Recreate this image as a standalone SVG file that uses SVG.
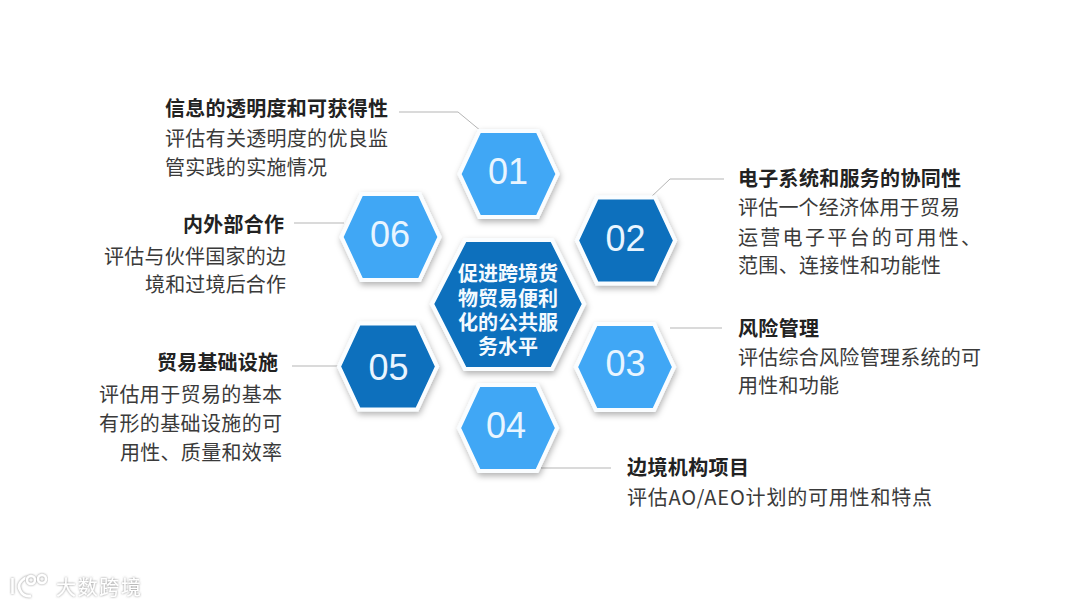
<svg xmlns="http://www.w3.org/2000/svg" width="1080" height="608" viewBox="0 0 1080 608">
<style>
text{font-family:"Noto Sans CJK SC","Liberation Sans",sans-serif}
.t{font-size:20px;font-weight:700;fill:#222}
.d{font-size:20px;fill:#3a3a3a}
.r{text-anchor:end}
.n{font-family:"Liberation Sans",sans-serif;font-size:36px;fill:#e9f5ff;text-anchor:middle}
.hex{stroke:#fafdff;stroke-width:4;stroke-linejoin:miter;filter:url(#sh)}
.l{fill:#3fa7f5}.k{fill:#0a6fbd}
.c{fill:none;stroke:#b5b5b5;stroke-width:1}
.ct{font-size:20px;font-weight:700;fill:#f4faff;text-anchor:middle}
.wm{font-size:20px;fill:#fff;filter:url(#wm)}
.wl{fill:none;stroke:#fff;stroke-width:2.500;filter:url(#wm)}
</style>
<defs>
<filter id="sh" x="-20%" y="-20%" width="140%" height="145%"><feDropShadow dx="1" dy="3" stdDeviation="3" flood-color="#000" flood-opacity=".3"/></filter>
<filter id="wm" x="-20%" y="-30%" width="140%" height="160%"><feDropShadow dx="0" dy="0" stdDeviation="1.200" flood-color="#777" flood-opacity=".9"/></filter>
<polygon id="h" points="-49,0 -29,-43 29,-43 49,0 29,43 -29,43"/>
</defs>
<rect width="1080" height="608" fill="#fff"/>
<g id="connectors">
<polyline class="c" points="399,112 458,112 481,131"/>
<polyline class="c" points="724,179 670,179 650,198"/>
<line class="c" x1="670" y1="328" x2="722" y2="328"/>
<line class="c" x1="541" y1="468" x2="611" y2="468"/>
<line class="c" x1="294" y1="223" x2="344" y2="223"/>
<line class="c" x1="292" y1="366" x2="341" y2="366"/>
</g>
<g id="node-center">
<polygon class="hex k" points="432,304 465,240 552,240 584,304 552,369 465,369"/>
<text class="ct"><tspan x="508" y="281">促进跨境货</tspan><tspan x="508" y="306">物贸易便利</tspan><tspan x="508" y="330">化的公共服</tspan><tspan x="508" y="354">务水平</tspan></text>
</g>
<g id="node-01"><use href="#h" x="508.500" y="174" class="hex l"/><text class="n" x="508" y="184">01</text></g>
<g id="node-02"><use href="#h" x="626" y="240.500" class="hex k"/><text class="n" x="625.500" y="251">02</text></g>
<g id="node-03"><use href="#h" x="625" y="367" class="hex l"/><text class="n" x="625.500" y="376">03</text></g>
<g id="node-04"><use href="#h" x="508" y="428" class="hex l"/><text class="n" x="506" y="438">04</text></g>
<g id="node-05"><use href="#h" x="388" y="366.500" class="hex k"/><text class="n" x="388.500" y="380">05</text></g>
<g id="node-06"><use href="#h" x="390.500" y="237" class="hex l"/><text class="n" x="390" y="247">06</text></g>
<g id="label-01"><text class="t" x="165" y="116" textLength="223">信息的透明度和可获得性</text><text class="d" x="165" y="146" textLength="223">评估有关透明度的优良监</text><text class="d" x="165" y="175" textLength="162">管实践的实施情况</text></g>
<g id="label-02"><text class="t" x="738" y="186" textLength="223">电子系统和服务的协同性</text><text class="d" x="738" y="215" textLength="222">评估一个经济体用于贸易</text><text class="d" x="738" y="245" textLength="243">运营电子平台的可用性、</text><text class="d" x="738" y="273" textLength="203">范围、连接性和功能性</text></g>
<g id="label-03"><text class="t" x="738" y="336" textLength="81">风险管理</text><text class="d" x="738" y="365" textLength="243">评估综合风险管理系统的可</text><text class="d" x="738" y="393" textLength="101">用性和功能</text></g>
<g id="label-04"><text class="t" x="627" y="475" textLength="122">边境机构项目</text><text class="d" x="627" y="505" textLength="305">评估AO/AEO计划的可用性和特点</text></g>
<g id="label-05"><text class="t r" x="278" y="370" textLength="121">贸易基础设施</text><text class="d r" x="282" y="402" textLength="183">评估用于贸易的基本</text><text class="d r" x="282" y="431" textLength="183">有形的基础设施的可</text><text class="d r" x="282" y="460" textLength="162">用性、质量和效率</text></g>
<g id="label-06"><text class="t r" x="284" y="232" textLength="101">内外部合作</text><text class="d r" x="286" y="264" textLength="182">评估与伙伴国家的边</text><text class="d r" x="286" y="292" textLength="141">境和过境后合作</text></g>
<g id="watermark"><path class="wl" d="M12.500 578 V594 M27 577 Q16 583 20 590 Q23 597 31 596"/><circle class="wl" cx="31" cy="580" r="4"/><circle class="wl" cx="42" cy="579" r="4"/><text class="wm" x="56" y="595" textLength="85">大数跨境</text></g>
</svg>
